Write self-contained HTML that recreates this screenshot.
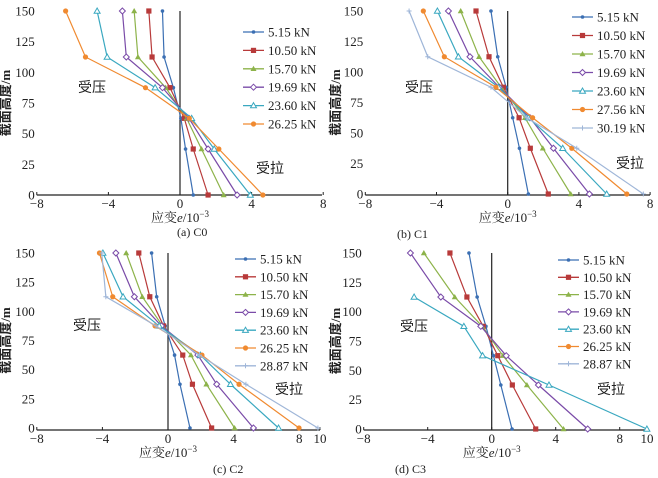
<!DOCTYPE html>
<html><head><meta charset="utf-8"><style>
html,body{margin:0;padding:0;background:#fff;}
svg{display:block;font-family:"Liberation Serif","Noto Serif CJK SC",serif;}
</style></head><body>
<svg id="fig" width="658" height="478" viewBox="0 0 658 478"></svg>
<script>
const heights=[150,112.5,87.5,62.5,37.5,0];
const yTicks=[0,25,50,75,100,125,150];
const colors=['#3b6fb3','#b83a3a','#8db34a','#7a4ba8','#3aa8c0','#f08a30','#9fb6d8'];
const markers=['dot','square','tri','odiamond','otri','circle','plus'];
// panel (a) C0
const labelsA=['5.15 kN','10.50 kN','15.70 kN','19.69 kN','23.60 kN','26.25 kN'];
const a1=[-0.98,-0.89,-0.37,0.05,0.31,0.74];
const a2=[-1.74,-1.56,-0.56,0.24,0.74,1.57];
const a3=[-2.56,-2.35,-0.8,0.37,1.2,2.44];
const a4=[-3.22,-3.0,-0.98,0.5,1.57,3.19];
const a5=[-4.63,-4.07,-1.39,0.65,1.91,3.93];
const a6=[-6.39,-5.28,-1.93,0.52,2.17,4.63];
// panel (b) C1
const labelsB=['5.15 kN','10.50 kN','15.70 kN','19.69 kN','23.60 kN','27.56 kN','30.19 kN'];
const b1=[-0.94,-0.56,-0.09,0.28,0.66,1.16];
const b2=[-1.78,-1.05,-0.24,0.64,1.27,2.28];
const b3=[-2.64,-1.61,-0.37,0.97,1.97,3.54];
const b4=[-3.33,-2.12,-0.47,1.25,2.57,4.59];
const b5=[-3.95,-2.77,-0.52,1.16,3.09,5.56];
const b6=[-4.74,-3.56,-0.66,1.4,3.6,6.69];
const b7=[-5.54,-4.49,-0.94,1.07,3.88,7.62];
// panel (c) C2
const labelsC=['5.15 kN','10.50 kN','15.70 kN','19.69 kN','23.60 kN','26.25 kN','28.87 kN'];
const c1=[-1.0,-0.69,-0.17,0.4,0.73,1.34];
const c2=[-1.78,-1.11,-0.27,0.9,1.49,2.66];
const c3=[-2.55,-1.57,-0.33,1.4,2.34,4.06];
const c4=[-3.18,-2.05,-0.4,1.82,2.97,5.21];
const c5=[-3.97,-2.74,-0.54,1.97,3.81,6.74];
const c6=[-4.18,-3.37,-0.79,2.07,4.33,7.99];
const c7=[-4.04,-3.79,-0.73,1.92,4.75,9.14];
// panel (d) C3
const labelsD=['5.15 kN','10.50 kN','15.70 kN','19.69 kN','23.60 kN','26.25 kN','28.87 kN'];
const d1=[-1.42,-0.91,-0.36,0.11,0.57,1.27];
const d2=[-2.61,-1.55,-0.53,0.38,1.29,2.75];
const d3=[-4.24,-2.31,-0.59,0.7,2.2,4.49];
const d4=[-5.08,-3.18,-0.68,0.91,2.92,6.0];
const d5=[null,-4.85,-1.74,-0.57,3.58,9.7];
const d6=[];
const d7=[];

const NS='http://www.w3.org/2000/svg';
const svg=document.getElementById('fig');
function el(tag,attrs,parent,text){const e=document.createElementNS(NS,tag);for(const k in attrs)e.setAttribute(k,attrs[k]);if(text!==undefined)e.textContent=text;(parent||svg).appendChild(e);return e;}

function marker(g,type,x,y,c){
  let m;
  if(type==='dot'){m=el('circle',{cx:x,cy:y,r:1.8,fill:c},g);}
  else if(type==='square'){m=el('rect',{x:x-2.6,y:y-2.6,width:5.2,height:5.2,fill:c},g);}
  else if(type==='tri'){m=el('polygon',{points:`${x},${y-3} ${x-3},${y+2.2} ${x+3},${y+2.2}`,fill:c},g);}
  else if(type==='odiamond'){m=el('polygon',{points:`${x},${y-3} ${x+3},${y} ${x},${y+3} ${x-3},${y}`,fill:'#fff',stroke:c,'stroke-width':1},g);}
  else if(type==='otri'){m=el('polygon',{points:`${x},${y-3} ${x-3},${y+2.2} ${x+3},${y+2.2}`,fill:'#fff',stroke:c,'stroke-width':1},g);}
  else if(type==='circle'){m=el('circle',{cx:x,cy:y,r:2.6,fill:c},g);}
  else {m=el('path',{d:`M${x-2.5},${y}H${x+2.5}M${x},${y-2.5}V${y+2.5}`,stroke:c,'stroke-width':1},g);}
  
  
}

function panel(p){
  const g=el('g',{},svg);
  
  
  const sx=v=>p.zx+v*p.unit;
  const sy=v=>p.yb-(v)*(p.yb-p.yt)/150;
  const x0=sx(-8);
  const ax=el('line',{x1:x0,y1:p.axisY,x2:p.xend,y2:p.axisY,stroke:'#222','stroke-width':1.2},g);
  
  const zl=el('line',{x1:sx(0),y1:p.yt,x2:sx(0),y2:p.axisY,stroke:'#222','stroke-width':1.2},g);
  
  p.xticks.forEach(t=>{
    const px=(p.endTick===t)?p.xend:sx(t);
    el('line',{x1:px,y1:p.axisY,x2:px,y2:p.axisY-3,stroke:'#222','stroke-width':1},g);
    const tl=el('text',{x:px,y:p.axisY+13,'font-size':13,'text-anchor':'middle',fill:'#222'},g,t<0?'\u2212'+(-t):String(t));
    
  });
  yTicks.forEach(t=>{
    const tl=el('text',{x:x0-2,y:sy(t)+4.5,'font-size':13,'text-anchor':'end',fill:'#222'},g,String(t));
    
  });
  const yt=el('text',{x:0,y:0,'font-size':13,'font-weight':'bold','text-anchor':'middle',fill:'#222',transform:`translate(${p.ytx},${(p.yt+p.yb)/2}) rotate(-90)`,'font-family':'"Liberation Serif","Noto Sans CJK SC",sans-serif'},g,'截面高度/m');
  
  const xt=el('text',{x:sx(0),y:p.axisY+27,'font-size':13,'text-anchor':'middle',fill:'#222'},g);
  
  el('tspan',{},xt,'应变');el('tspan',{'font-style':'italic'},xt,'e');el('tspan',{},xt,'/10');el('tspan',{dy:-5,'font-size':9},xt,'\u22123');
  const cap=el('text',{x:p.capx,y:p.capy,'font-size':12,fill:'#222'},g,p.caption);
  
  const ty=el('text',{x:p.ya[0],y:p.ya[1],'font-size':14,fill:'#222','font-family':'"Noto Sans CJK SC",sans-serif'},g,'受压');
  
  const tl2=el('text',{x:p.la[0],y:p.la[1],'font-size':14,fill:'#222','font-family':'"Noto Sans CJK SC",sans-serif'},g,'受拉');
  
  p.series.forEach((s,i)=>{
    const c=colors[i];
    const pts=[];s.forEach((v,j)=>{if(v!==null&&v!==undefined)pts.push([sx(v),sy(heights[j])]);});
    if(pts.length){
      const pl=el('polyline',{points:pts.map(q=>q.join(',')).join(' '),fill:'none',stroke:c,'stroke-width':1.2},g);
      
      pts.forEach(q=>marker(g,markers[i],q[0],q[1],c));
    }
  });
  p.labels.forEach((lab,i)=>{
    const y=p.leg[1]+i*p.leg[2];const c=colors[i];
    const lg=el('g',{},g);
    
    el('line',{x1:p.leg[0],y1:y,x2:p.leg[0]+21,y2:y,stroke:c,'stroke-width':1.3},lg);
    marker(lg,markers[i],p.leg[0]+10.5,y,c);
    el('text',{x:p.leg[0]+25,y:y+4.5,'font-size':13,fill:'#222'},lg,lab);
  });
}

panel({name:'panel-c0',zx:180,unit:17.9,xend:322,yt:11,yb:195,axisY:195,xticks:[-8,-4,0,4,8],endTick:null,ytx:10,
  caption:'(a) C0',capx:177,capy:236,ya:[78,92],la:[256,173],leg:[243,32,18.4],labels:labelsA,series:[a1,a2,a3,a4,a5,a6]});
panel({name:'panel-c1',zx:507.7,unit:17.8,xend:650,yt:11,yb:194,axisY:195,xticks:[-8,-4,0,4,8],endTick:null,ytx:340,
  caption:'(b) C1',capx:397,capy:238,ya:[405,92],la:[616,168],leg:[572,17,18.5],labels:labelsB,series:[b1,b2,b3,b4,b5,b6,b7]});
panel({name:'panel-c2',zx:168,unit:16.4,xend:320,yt:253,yb:428,axisY:430,xticks:[-8,-4,0,4,8,10],endTick:10,ytx:10,
  caption:'(c) C2',capx:213,capy:473,ya:[73,330],la:[275,394],leg:[235,259,17.8],labels:labelsC,series:[c1,c2,c3,c4,c5,c6,c7]});
panel({name:'panel-c3',zx:491.7,unit:16.0,xend:647,yt:253,yb:429,axisY:430,xticks:[-8,-4,0,4,8,10],endTick:10,ytx:340,
  caption:'(d) C3',capx:395,capy:473,ya:[400,331],la:[597,394],leg:[558,260,17.3],labels:labelsD,series:[d1,d2,d3,d4,d5,d6,d7]});
</script>
</body></html>
